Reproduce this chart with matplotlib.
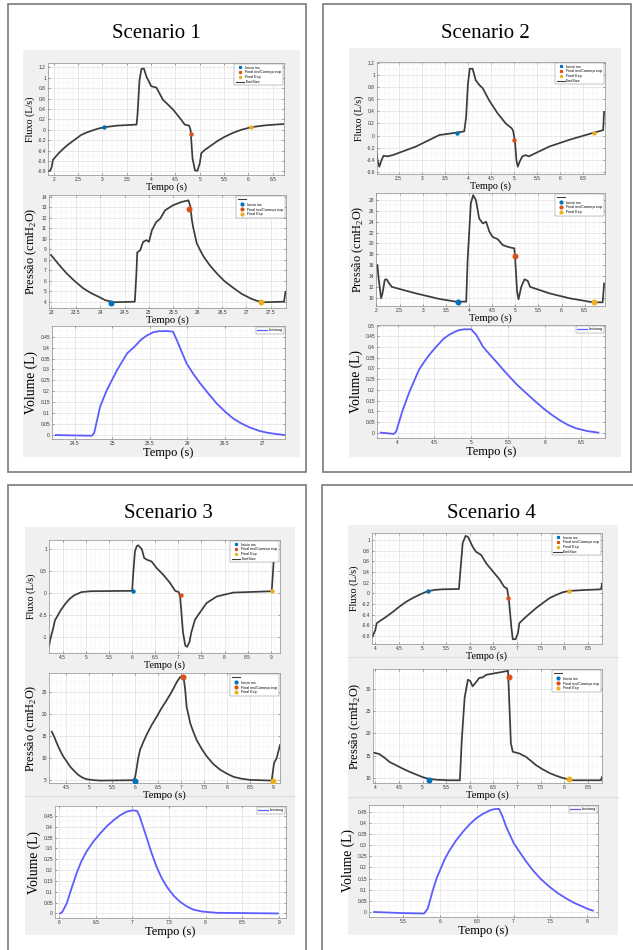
import matplotlib
matplotlib.use('Agg')
import matplotlib.pyplot as plt
from matplotlib.patches import Rectangle
from matplotlib.lines import Line2D
from matplotlib.ticker import FuncFormatter, AutoMinorLocator

W, H = 633, 950

# ---------------- DATA ----------------
titles = ["Scenario 1", "Scenario 2", "Scenario 3", "Scenario 4"]

# Scenario 1
s1_flux_t = [1.88, 1.93, 1.96, 1.98, 2.1, 2.2, 2.3, 2.43, 2.56, 2.68, 2.8, 2.9, 3.04, 3.3, 3.70, 3.72, 3.76, 3.80, 3.85, 3.90, 4.0, 4.11, 4.24, 4.45, 4.62, 4.69, 4.78, 4.81, 4.85, 4.90, 4.95, 5.0, 5.03, 5.1, 5.22, 5.34, 5.5, 5.68, 5.85, 6.06, 6.25, 6.4, 6.71]
s1_flux_v = [-0.80, -0.78, -0.70, -0.58, -0.45, -0.36, -0.28, -0.19, -0.10, -0.05, -0.01, 0.02, 0.05, 0.08, 0.10, 0.30, 0.95, 1.17, 1.18, 1.03, 0.84, 0.81, 0.58, 0.39, 0.19, 0.10, 0.08, 0.0, -0.55, -0.78, -0.79, -0.64, -0.45, -0.39, -0.31, -0.23, -0.14, -0.06, 0.0, 0.05, 0.075, 0.09, 0.11]
s1_flux_marks_t = [3.04, 4.81, 6.06]
s1_flux_marks_v = [0.05, -0.09, 0.05]

s1_pres_t = [22.99, 23.15, 23.31, 23.48, 23.65, 23.82, 23.99, 24.1, 24.27, 24.71, 24.74, 24.76, 24.78, 24.82, 24.88, 24.95, 25.0, 25.06, 25.15, 25.23, 25.33, 25.50, 25.67, 25.81, 25.85, 25.88, 25.91, 25.98, 26.05, 26.12, 26.25, 26.39, 26.55, 26.74, 26.9, 27.08, 27.2, 27.35, 27.77, 27.80]
s1_pres_v = [8.45, 7.55, 6.70, 5.95, 5.28, 4.8, 4.42, 4.15, 3.95, 4.0, 6.5, 8.7, 8.76, 8.9, 9.7, 9.86, 9.7, 10.8, 11.6, 11.9, 12.7, 13.2, 13.5, 13.65, 13.05, 11.78, 11.0, 9.56, 8.9, 8.3, 7.45, 6.7, 5.95, 5.28, 4.75, 4.32, 4.1, 3.95, 4.0, 4.95]
s1_pres_marks_t = [24.23, 25.83, 27.29]
s1_pres_marks_v = [3.92, 12.83, 3.94]

s1_vol_t = [24.25, 24.73, 24.76, 24.84, 24.93, 25.07, 25.20, 25.30, 25.38, 25.46, 25.55, 25.62, 25.73, 25.81, 25.86, 25.99, 26.08, 26.17, 26.28, 26.39, 26.5, 26.61, 26.72, 26.83, 26.95, 27.06, 27.18, 27.30]
s1_vol_v = [0.0, -0.003, 0.008, 0.13, 0.206, 0.30, 0.374, 0.405, 0.435, 0.455, 0.471, 0.475, 0.476, 0.473, 0.435, 0.328, 0.28, 0.237, 0.19, 0.145, 0.108, 0.076, 0.053, 0.035, 0.02, 0.011, 0.005, 0.0]

# Scenario 2
s2_flux_t = [2.01, 2.04, 2.08, 2.12, 2.17, 2.26, 2.37, 2.87, 3.38, 3.76, 3.92, 3.96, 4.0, 4.04, 4.10, 4.17, 4.25, 4.32, 4.46, 4.64, 4.82, 4.95, 4.98, 5.02, 5.05, 5.08, 5.12, 5.18, 5.25, 5.32, 5.76, 6.19, 6.73, 6.93, 6.95]
s2_flux_v = [-0.18, -0.40, -0.51, -0.42, -0.33, -0.34, -0.32, -0.18, 0.01, 0.05, 0.07, 0.30, 0.85, 1.10, 1.10, 0.91, 0.83, 0.78, 0.58, 0.37, 0.20, 0.12, 0.08, -0.10, -0.40, -0.51, -0.43, -0.34, -0.32, -0.34, -0.18, -0.07, 0.05, 0.09, 0.39]
s2_flux_marks_t = [3.76, 5.0, 6.73]
s2_flux_marks_v = [0.05, -0.07, 0.05]

s2_pres_t = [2.02, 2.05, 2.10, 2.13, 2.18, 2.22, 2.27, 2.33, 2.85, 3.36, 3.72, 3.94, 3.97, 4.04, 4.09, 4.15, 4.22, 4.30, 4.37, 4.44, 4.51, 4.62, 4.73, 4.87, 4.98, 5.0, 5.04, 5.07, 5.13, 5.20, 5.27, 5.32, 5.74, 6.17, 6.68, 6.89, 6.92]
s2_pres_v = [16.0, 13.3, 9.9, 10.8, 13.3, 13.4, 12.7, 12.0, 10.8, 9.77, 9.27, 9.27, 16.9, 27.4, 28.9, 28.0, 24.6, 23.7, 24.0, 22.2, 21.2, 20.8, 19.7, 19.3, 19.1, 16.9, 11.1, 9.7, 12.0, 13.4, 13.1, 12.0, 10.8, 9.9, 9.15, 9.15, 12.6]
s2_pres_marks_t = [3.77, 5.0, 6.71]
s2_pres_marks_v = [9.27, 17.7, 9.15]

s2_vol_t = [3.77, 3.95, 3.98, 4.07, 4.16, 4.29, 4.36, 4.43, 4.5, 4.57, 4.63, 4.70, 4.77, 4.84, 4.92, 5.0, 5.07, 5.16, 5.25, 5.34, 5.43, 5.52, 5.63, 5.75, 5.87, 5.98, 6.09, 6.20, 6.31, 6.43, 6.57, 6.73]
s2_vol_v = [0.0, -0.006, 0.005, 0.106, 0.19, 0.293, 0.33, 0.363, 0.392, 0.418, 0.44, 0.457, 0.47, 0.48, 0.483, 0.483, 0.457, 0.402, 0.366, 0.332, 0.296, 0.262, 0.222, 0.184, 0.147, 0.114, 0.085, 0.059, 0.037, 0.02, 0.008, 0.0]

# Scenario 3
s3_flux_t = [4.20, 4.23, 4.28, 4.33, 4.37, 4.45, 4.55, 4.65, 4.75, 4.9, 5.1, 6.0, 6.02, 6.06, 6.10, 6.13, 6.21, 6.26, 6.32, 6.42, 6.53, 6.67, 6.82, 6.93, 7.01, 7.04, 7.10, 7.15, 7.19, 7.24, 7.28, 7.36, 7.43, 7.61, 7.83, 8.19, 9.02, 9.05, 9.08, 9.16]
s3_flux_v = [-1.22, -1.05, -0.85, -0.62, -0.55, -0.40, -0.25, -0.13, -0.05, 0.02, 0.04, 0.05, 0.4, 0.95, 1.07, 1.09, 1.0, 0.80, 0.76, 0.72, 0.57, 0.42, 0.23, 0.05, 0.02, -0.1, -0.9, -1.2, -1.23, -1.12, -0.9, -0.61, -0.50, -0.23, -0.08, 0.01, 0.04, 0.5, 1.07, 1.1]
s3_flux_marks_t = [6.01, 7.05, 9.02]
s3_flux_marks_v = [0.05, -0.04, 0.04]

s3_pres_t = [4.19, 4.25, 4.30, 4.37, 4.44, 4.52, 4.59, 4.68, 4.77, 4.86, 4.95, 5.1, 5.24, 5.96, 6.0, 6.04, 6.07, 6.11, 6.18, 6.25, 6.36, 6.47, 6.58, 6.69, 6.80, 6.91, 6.98, 7.05, 7.09, 7.12, 7.20, 7.27, 7.34, 7.45, 7.56, 7.7, 7.85, 8.0, 8.14, 8.3, 8.5, 8.97, 9.02, 9.08, 9.15]
s3_pres_v = [15.9, 14.6, 13.3, 11.7, 10.3, 9.1, 8.0, 7.0, 6.1, 5.5, 5.15, 4.95, 4.85, 4.93, 5.5, 8.0, 10.0, 11.8, 13.6, 15.2, 17.4, 19.3, 21.3, 23.1, 25.0, 27.2, 28.3, 28.6, 25.4, 21.6, 17.8, 15.8, 14.0, 12.0, 10.3, 8.6, 7.3, 6.4, 5.7, 5.3, 5.0, 4.85, 8.8, 10.0, 12.9]
s3_pres_marks_t = [6.0, 7.05, 9.0]
s3_pres_marks_v = [4.85, 28.4, 4.85]

s3_vol_t = [6.01, 6.04, 6.10, 6.17, 6.24, 6.30, 6.37, 6.46, 6.56, 6.65, 6.74, 6.83, 6.92, 7.0, 7.06, 7.10, 7.14, 7.19, 7.26, 7.33, 7.40, 7.47, 7.56, 7.65, 7.74, 7.83, 7.95, 8.15, 8.99]
s3_vol_v = [0.0, 0.007, 0.046, 0.12, 0.19, 0.24, 0.285, 0.33, 0.37, 0.403, 0.43, 0.453, 0.47, 0.476, 0.474, 0.447, 0.405, 0.354, 0.28, 0.215, 0.163, 0.123, 0.083, 0.054, 0.033, 0.018, 0.009, 0.003, 0.0]

# Scenario 4
s4_flux_t = [3.94, 4.0, 4.03, 4.23, 4.37, 4.51, 4.65, 4.79, 4.95, 5.11, 5.27, 5.43, 5.77, 5.80, 5.85, 5.91, 5.96, 6.01, 6.06, 6.13, 6.24, 6.35, 6.49, 6.63, 6.73, 6.79, 6.83, 6.88, 6.91, 6.97, 7.02, 7.05, 7.19, 7.40, 7.55, 7.69, 7.83, 7.97, 8.11, 8.39, 8.78, 8.80]
s4_flux_v = [-0.81, -0.69, -0.56, -0.44, -0.35, -0.25, -0.16, -0.09, -0.02, 0.04, 0.065, 0.075, 0.08, 0.4, 0.94, 1.075, 1.06, 0.97, 0.875, 0.78, 0.72, 0.56, 0.41, 0.26, 0.12, 0.09, -0.13, -0.63, -0.86, -0.86, -0.75, -0.56, -0.44, -0.28, -0.18, -0.09, -0.03, 0.02, 0.045, 0.06, 0.075, 0.18]
s4_flux_marks_t = [5.11, 6.81, 8.11]
s4_flux_marks_v = [0.04, -0.09, 0.045]

s4_pres_t = [3.96, 4.08, 4.2, 4.30, 4.45, 4.58, 4.72, 4.86, 5.0, 5.11, 5.3, 5.57, 5.79, 5.83, 5.89, 5.96, 6.01, 6.06, 6.13, 6.20, 6.27, 6.35, 6.56, 6.77, 6.81, 6.84, 6.87, 6.91, 7.05, 7.19, 7.3, 7.40, 7.55, 7.69, 7.83, 7.97, 8.05, 8.18, 8.78, 8.80]
s4_pres_v = [15.7, 15.4, 14.5, 13.6, 12.8, 12.1, 11.4, 10.8, 10.2, 9.85, 9.6, 9.48, 9.48, 18.5, 28.0, 32.1, 31.8, 30.6, 31.5, 32.5, 32.6, 33.2, 33.6, 34.0, 34.1, 26.1, 17.8, 15.9, 15.5, 14.75, 13.8, 12.9, 11.9, 11.1, 10.5, 10.0, 9.8, 9.48, 9.48, 10.2]
s4_pres_marks_t = [5.13, 6.83, 8.11]
s4_pres_marks_v = [9.48, 32.7, 9.7]

s4_vol_t = [5.10, 5.49, 5.78, 5.83, 5.90, 5.95, 6.01, 6.06, 6.12, 6.21, 6.31, 6.40, 6.49, 6.58, 6.67, 6.73, 6.80, 6.85, 6.89, 6.94, 7.0, 7.08, 7.17, 7.26, 7.37, 7.49, 7.6, 7.72, 7.83, 7.95, 8.0, 8.08]
s4_vol_v = [0.0, -0.005, -0.007, 0.015, 0.098, 0.15, 0.197, 0.236, 0.272, 0.318, 0.36, 0.393, 0.42, 0.44, 0.455, 0.461, 0.463, 0.428, 0.39, 0.353, 0.31, 0.27, 0.227, 0.188, 0.148, 0.113, 0.085, 0.06, 0.04, 0.023, 0.015, 0.006]

flux_legend = ["Inicio ins", "Final ins/Começo exp", "Final Exp", "FontSize"]
pres_legend = [" ", "Inicio ins", "Final ins/Começo exp", "Final Exp"]
vol_legend = ["Leistung"]

# ---------------- STYLE ----------------
BLUE, ORANGE, YELLOW = '#0072BD', '#D95319', '#EDB120'
CURVE = '#3c3c3c'
VOLC = '#5c5cff'
SERIF = ['Liberation Serif', 'DejaVu Serif']
plt.rcParams['font.family'] = ['Liberation Sans', 'DejaVu Sans']
plt.rcParams['mathtext.fontset'] = 'custom'
plt.rcParams['mathtext.rm'] = 'Liberation Serif'

fig = plt.figure(figsize=(W / 100, H / 100), dpi=100)
fig.patch.set_facecolor('white')


def frect(l, t, r, b):
    return [l / W, 1 - b / H, (r - l) / W, (b - t) / H]


def add_box(l, t, r, b, **kw):
    fig.patches.append(Rectangle((l / W, 1 - b / H), (r - l) / W, (b - t) / H,
                                 transform=fig.transFigure, figure=fig, **kw))


def fmt(v, pos):
    return f"{round(v, 4):g}"


# panel frames and grey backgrounds
frames = [(8, 4, 306, 472), (323, 4, 631, 472), (8, 485, 306, 955), (322, 485, 640, 955)]
greys = [(23, 50, 300, 457), (349, 48, 621, 457), (25, 527, 295, 935), (348, 525, 618, 935)]
for (l, t, r, b) in greys:
    add_box(l, t, r, b, facecolor='#f0f0f0', edgecolor='none', zorder=-3)
for (l, t, r, b) in frames:
    add_box(l, t, r, b, facecolor='none', edgecolor='#7a7a7a', lw=1.2, zorder=-2)
# separators between screenshots
for (x0, x1, y) in [(25, 295, 796), (348, 618, 657), (348, 618, 797)]:
    fig.lines.append(Line2D([x0 / W, x1 / W], [1 - y / H, 1 - y / H], transform=fig.transFigure,
                            color='#dcdcdc', lw=0.8, zorder=-2))

title_pos = [(156, 33), (485, 33), (168, 513), (491, 513)]
for txt, (x, y) in zip(titles, title_pos):
    fig.text(x / W, 1 - y / H, txt, ha='center', va='center', fontsize=15, family=SERIF)


def make_ax(box, xlim, ylim, xticks, yticks, ylabel, ylsize, xlsize, ymin_div=2):
    ax = fig.add_axes(frect(*box))
    ax.set_zorder(1)
    ax.set_facecolor('white')
    ax.set_xlim(xlim)
    ax.set_ylim(ylim)
    ax.set_xticks(xticks)
    ax.set_yticks(yticks)
    ax.xaxis.set_major_formatter(FuncFormatter(fmt))
    ax.yaxis.set_major_formatter(FuncFormatter(fmt))
    ax.xaxis.set_minor_locator(AutoMinorLocator(5))
    ax.yaxis.set_minor_locator(AutoMinorLocator(ymin_div))
    ax.grid(which='major', color='#d9d9d9', lw=0.4)
    ax.grid(which='minor', color='#eeeeee', lw=0.3)
    ax.set_axisbelow(True)
    ax.tick_params(which='major', direction='in', top=True, right=True, labelsize=3.5,
                   length=1.6, width=0.4, pad=1.5, color='#555555', labelcolor='#333333')
    ax.tick_params(which='minor', length=0)
    for s in ax.spines.values():
        s.set_linewidth(0.5)
        s.set_color('#8c8c8c')
    ax.set_ylabel(ylabel, family=SERIF, fontsize=ylsize, labelpad=2)
    ax.set_xlabel("Tempo (s)", family=SERIF, fontsize=xlsize, labelpad=0.5)
    return ax


def frange(a, b, step):
    n = int(round((b - a) / step))
    return [round(a + i * step, 4) for i in range(n + 1)]


def style_legend(leg):
    leg.get_frame().set_linewidth(0.3)
    leg.get_frame().set_edgecolor('#777777')


def flux_plot(box, t, v, mt, mv, xlim, ylim, xt, yt):
    ax = make_ax(box, xlim, ylim, xt, yt, "Fluxo (L/s)", 7.2, 7.3)
    ax.plot(t, v, color=CURVE, lw=1.25, solid_joinstyle='round')
    for x, y, c in zip(mt, mv, [BLUE, ORANGE, YELLOW]):
        ax.plot([x], [y], marker='o', ls='none', color=c, ms=2.2, zorder=5)
    hs = [Line2D([], [], marker='s', ls='none', color=c, ms=1.3) for c in [BLUE, ORANGE, YELLOW]]
    hs.append(Line2D([], [], color=CURVE, lw=0.8))
    leg = ax.legend(hs, flux_legend, loc='upper right', fontsize=2.7, handlelength=2.2,
                    borderpad=0.35, labelspacing=0.2, handletextpad=0.4, borderaxespad=0.35,
                    fancybox=False, framealpha=1)
    style_legend(leg)
    return ax


def pres_plot(box, t, v, mt, mv, xlim, ylim, xt, yt, ylsize=8.8, xlsize=7.7):
    ax = make_ax(box, xlim, ylim, xt, yt, "Pressão (cmH$_2$O)", ylsize, xlsize)
    ax.plot(t, v, color=CURVE, lw=1.25, solid_joinstyle='round')
    for x, y, c in zip(mt, mv, [BLUE, ORANGE, YELLOW]):
        ax.plot([x], [y], marker='o', ls='none', color=c, ms=3.3, zorder=5)
    hs = [Line2D([], [], color=CURVE, lw=0.8)]
    hs += [Line2D([], [], marker='o', ls='none', color=c, ms=2.0) for c in [BLUE, ORANGE, YELLOW]]
    leg = ax.legend(hs, pres_legend, loc='upper right', fontsize=2.7, handlelength=2.2,
                    borderpad=0.35, labelspacing=0.25, handletextpad=0.4, borderaxespad=0.35,
                    fancybox=False, framealpha=1)
    style_legend(leg)
    return ax


def vol_plot(box, t, v, xlim, ylim, xt, yt, ylsize=9.8, xlsize=9.0):
    ax = make_ax(box, xlim, ylim, xt, yt, "Volume (L)", ylsize, xlsize)
    ax.plot(t, v, color=VOLC, lw=1.3, solid_joinstyle='round')
    hs = [Line2D([], [], color=VOLC, lw=0.9)]
    leg = ax.legend(hs, vol_legend, loc='upper right', fontsize=2.7, handlelength=2.6,
                    borderpad=0.3, handletextpad=0.3, borderaxespad=0.35,
                    fancybox=False, framealpha=1)
    style_legend(leg)
    return ax


# Scenario 1
flux_plot((48, 63, 284, 175), s1_flux_t, s1_flux_v, s1_flux_marks_t, s1_flux_marks_v,
          (1.88, 6.73), (-0.87, 1.285), frange(2, 6.5, 0.5), frange(-0.8, 1.2, 0.2))
pres_plot((49, 195, 286, 308), s1_pres_t, s1_pres_v, s1_pres_marks_t, s1_pres_marks_v,
          (22.95, 27.81), (3.4, 14.16), frange(23, 27.5, 0.5), frange(4, 14, 1))
vol_plot((52, 326, 285, 439), s1_vol_t, s1_vol_v,
         (24.20, 27.30), (-0.018, 0.499), frange(24.5, 27, 0.5), frange(0, 0.45, 0.05))

# Scenario 2
flux_plot((377, 62, 605, 174), s2_flux_t, s2_flux_v, s2_flux_marks_t, s2_flux_marks_v,
          (2.03, 6.97), (-0.63, 1.21), frange(2.5, 6.5, 0.5), frange(-0.6, 1.2, 0.2))
pres_plot((376, 193, 605, 306), s2_pres_t, s2_pres_v, s2_pres_marks_t, s2_pres_marks_v,
          (1.99, 6.94), (8.47, 29.3), frange(2, 6.5, 0.5), frange(10, 28, 2))
vol_plot((377, 325, 605, 438), s2_vol_t, s2_vol_v,
         (3.72, 6.82), (-0.025, 0.503), frange(4, 6.5, 0.5), frange(0, 0.5, 0.05))

# Scenario 3
flux_plot((49, 540, 280, 653), s3_flux_t, s3_flux_v, s3_flux_marks_t, s3_flux_marks_v,
          (4.20, 9.20), (-1.37, 1.21), frange(4.5, 9, 0.5), frange(-1, 1, 0.5))
pres_plot((49, 673, 280, 783), s3_pres_t, s3_pres_v, s3_pres_marks_t, s3_pres_marks_v,
          (4.13, 9.15), (4.3, 29.2), frange(4.5, 9, 0.5), frange(5, 25, 5))
vol_plot((55, 806, 286, 918), s3_vol_t, s3_vol_v,
         (5.94, 9.10), (-0.021, 0.496), frange(6, 9, 0.5), frange(0, 0.45, 0.05))

# Scenario 4
flux_plot((372, 533, 602, 644), s4_flux_t, s4_flux_v, s4_flux_marks_t, s4_flux_marks_v,
          (3.93, 8.80), (-0.95, 1.13), frange(4, 8.5, 0.5), frange(-0.8, 1.0, 0.2))
pres_plot((373, 669, 602, 783), s4_pres_t, s4_pres_v, s4_pres_marks_t, s4_pres_marks_v,
          (3.95, 8.80), (8.87, 34.5), frange(4, 8.5, 0.5), frange(10, 30, 5))
vol_plot((369, 805, 598, 917), s4_vol_t, s4_vol_v,
         (5.03, 8.15), (-0.0225, 0.48), frange(5.5, 8, 0.5), frange(0, 0.45, 0.05))

fig.savefig("out.png", dpi=100, facecolor='white')
